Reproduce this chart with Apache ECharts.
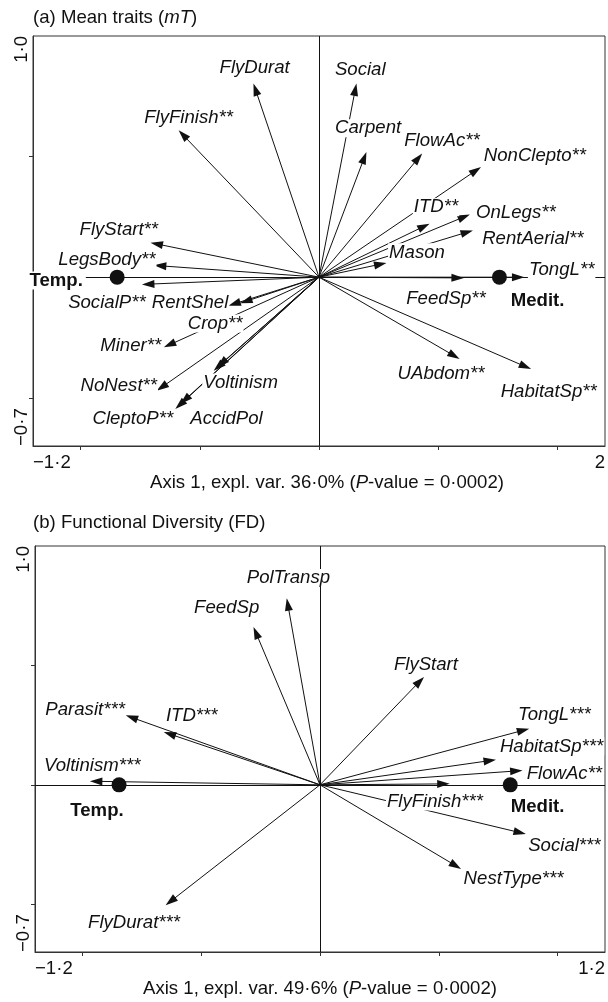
<!DOCTYPE html>
<html><head><meta charset="utf-8">
<script src="https://cdn.jsdelivr.net/npm/echarts@6/dist/echarts.min.js"></script>
<style>html,body{margin:0;padding:0;background:#fff}#c{width:608px;height:1002px}</style>
</head><body><div id="c"></div>
<script>
// ---------- Panel (a) Mean traits (mT) ----------
const aNames = ['FlyDurat','FlyFinish**','FlyStart**','LegsBody**','SocialP**','RentShel','Crop**','Miner**','NoNest**','Voltinism','','CleptoP**','AccidPol','Social','Carpent','FlowAc**','NonClepto**','ITD**','OnLegs**','RentAerial**','Mason','TongL**','FeedSp**','UAbdom**','HabitatSp**'];
const aTipX = [-0.275,-0.589,-0.707,-0.693,-0.743,-0.380,-0.331,-0.651,-0.681,-0.442,-0.428,-0.603,-0.582,0.157,0.199,0.433,0.680,0.464,0.633,0.646,0.283,0.862,0.608,0.590,0.890];
const aTipY = [0.803,0.609,0.143,0.049,-0.030,-0.118,-0.108,-0.291,-0.471,-0.388,-0.374,-0.547,-0.526,0.803,0.519,0.513,0.457,0.222,0.260,0.194,0.059,0.000,-0.003,-0.339,-0.381];
const aLabX = [-0.270,-0.547,-0.840,-0.890,-0.890,-0.541,-0.436,-0.790,-0.840,-0.329,null,-0.781,-0.388,0.173,0.206,0.516,0.906,0.491,0.826,0.897,0.411,1.018,0.533,0.512,0.964];
const aLabY = [0.867,0.659,0.198,0.074,-0.105,-0.105,-0.192,-0.284,-0.450,-0.437,null,-0.587,-0.587,0.859,0.618,0.564,0.505,0.290,0.265,0.157,0.103,0.032,-0.088,-0.400,-0.475];
const aSites = ['Temp.','Medit.'];
const aSiteX = [-0.847, 0.757];
const aSiteY = [0, 0];
const aSiteLabX = [-1.103, 0.917];
const aSiteLabY = [-0.014, -0.097];
const aXTickLabels = ['\u22121\u00b72', '2'];
const aYTickLabels = ['\u22120\u00b77', '1\u00b70'];
const aAxisName = 'Axis 1, expl. var. 36\u00b70% ({i|P}-value = 0\u00b70002)';
const aTitle = '(a) Mean traits ({i|mT})';

// ---------- Panel (b) Functional Diversity (FD) ----------
const bNames = ['PolTransp','FeedSp','Parasit***','ITD***','Voltinism***','FlyDurat***','FlyStart','TongL***','HabitatSp***','FlowAc**','FlyFinish***','Social***','NestType***'];
const bTipX = [-0.140,-0.280,-0.818,-0.658,-0.969,-0.650,0.438,0.881,0.741,0.853,0.546,0.867,0.594];
const bTipY = [0.781,0.661,0.291,0.221,0.015,-0.504,0.452,0.235,0.105,0.060,0.004,-0.206,-0.352];
const bLabX = [-0.133,-0.393,-0.989,-0.540,-0.959,-0.783,0.446,0.987,0.975,1.029,0.484,1.029,0.815];
const bLabY = [0.866,0.740,0.312,0.287,0.081,-0.578,0.501,0.291,0.161,0.047,-0.070,-0.255,-0.393];
const bSites = ['Temp.','Medit.'];
const bSiteX = [-0.846, 0.801];
const bSiteY = [0, 0];
const bSiteLabX = [-0.939, 0.916];
const bSiteLabY = [-0.108, -0.091];
const bXTickLabels = ['\u22121\u00b72', '1\u00b72'];
const bYTickLabels = ['\u22120\u00b77', '1\u00b70'];
const bAxisName = 'Axis 1, expl. var. 49\u00b76% ({i|P}-value = 0\u00b70002)';
const bTitle = '(b) Functional Diversity (FD)';

const X_RANGE = [-1.2, 1.2];
const Y_RANGE = [-0.7, 1.0];
const X_TICKS = [-1, -0.5, 0, 0.5, 1];
const Y_TICKS = [-0.5, 0, 0.5];

const FONT = 'Liberation Sans';
const FS = 18.6;
const INK = '#111';
const FRAME = '#333';
const CLEAR = 'rgba(0,0,0,0)';

function arrowItem(params, api) {
  const o = api.coord([0, 0]);
  const p = api.coord([api.value(0), api.value(1)]);
  const dx = p[0] - o[0], dy = p[1] - o[1];
  const len = Math.hypot(dx, dy) || 1;
  const ux = dx / len, uy = dy / len;
  const hl = 12.5, hw = 4;
  const bx = p[0] - ux * hl, by = p[1] - uy * hl;
  return {
    type: 'group',
    children: [
      { type: 'line', shape: { x1: o[0], y1: o[1], x2: bx + ux * 2, y2: by + uy * 2 }, style: { stroke: INK, lineWidth: 1 } },
      { type: 'polygon', shape: { points: [[p[0], p[1]], [bx - uy * hw, by + ux * hw], [bx + uy * hw, by - ux * hw]] }, style: { fill: INK } }
    ]
  };
}

function panel(idx, names, tipX, tipY, labX, labY, sites, siteX, siteY, siteLabX, siteLabY, xTL, yTL, axisName, axisNamePad, zeroZ) {
  const arrows = names.map((n, i) => [tipX[i], tipY[i]]);
  const labels = [];
  names.forEach((n, i) => { if (n && labX[i] != null) labels.push({ name: n, value: [labX[i], labY[i]] }); });
  const siteDots = sites.map((n, i) => ({ name: n, value: [siteX[i], siteY[i]] }));
  const siteLabs = sites.map((n, i) => ({ name: n, value: [siteLabX[i], siteLabY[i]] }));
  const xAxis = {
    type: 'value', gridIndex: idx, min: X_RANGE[0], max: X_RANGE[1],
    axisLine: { show: true, onZero: false, lineStyle: { color: FRAME, width: 1 } },
    axisTick: { show: true, length: 4, customValues: X_TICKS, lineStyle: { color: FRAME } },
    splitLine: { show: false },
    axisLabel: {
      show: true, customValues: X_RANGE, margin: 7, fontFamily: FONT, fontSize: FS, color: INK,
      alignMinLabel: 'left', alignMaxLabel: 'right',
      formatter: v => (v < 0 ? xTL[0] : xTL[1])
    },
    name: axisName, nameLocation: 'middle', nameGap: 27,
    nameTextStyle: { fontFamily: FONT, fontSize: FS, color: INK, padding: axisNamePad,
      rich: { i: { fontFamily: FONT, fontSize: FS, color: INK, fontStyle: 'italic' } } }
  };
  const yAxis = {
    type: 'value', gridIndex: idx, min: Y_RANGE[0], max: Y_RANGE[1],
    axisLine: { show: true, onZero: false, lineStyle: { color: FRAME, width: 1 } },
    axisTick: { show: true, length: 4, customValues: Y_TICKS, lineStyle: { color: FRAME } },
    splitLine: { show: false },
    axisLabel: {
      show: true, customValues: Y_RANGE, rotate: 90, margin: 2, fontFamily: FONT, fontSize: FS, color: INK,
      verticalAlign: 'bottom', alignMinLabel: 'left', alignMaxLabel: 'right',
      formatter: v => (v < 0 ? yTL[0] : yTL[1])
    }
  };
  const series = [
    { type: 'custom', xAxisIndex: idx, yAxisIndex: idx, renderItem: arrowItem, data: arrows, z: 2, silent: true, clip: false,
      encode: { x: 0, y: 1 } },
    { type: 'scatter', xAxisIndex: idx, yAxisIndex: idx, data: [], z: zeroZ, silent: true,
      markLine: { silent: true, symbol: 'none', animation: false, label: { show: false },
        lineStyle: { color: INK, width: 1, type: 'solid' },
        emphasis: { disabled: true },
        data: [{ xAxis: 0 }, { yAxis: 0 }] } },
    { type: 'scatter', xAxisIndex: idx, yAxisIndex: idx, data: siteDots, symbol: 'circle', symbolSize: 15,
      itemStyle: { color: INK, opacity: 1 }, z: 4, silent: true },
    { type: 'scatter', xAxisIndex: idx, yAxisIndex: idx, data: labels, symbolSize: 1,
      itemStyle: { color: CLEAR, opacity: 1 }, z: 5, silent: true,
      label: { show: true, position: 'inside', formatter: '{b}', fontFamily: FONT, fontSize: FS, fontStyle: 'italic',
        color: INK, backgroundColor: '#fff', padding: [0, 1], lineHeight: 18 } },
    { type: 'scatter', xAxisIndex: idx, yAxisIndex: idx, data: siteLabs, symbolSize: 1,
      itemStyle: { color: CLEAR, opacity: 1 }, z: 5, silent: true,
      label: { show: true, position: 'inside', formatter: '{b}', fontFamily: FONT, fontSize: FS, fontWeight: 'bold',
        color: INK, backgroundColor: '#fff', padding: [0, 3], lineHeight: 18 } }
  ];
  return { xAxis, yAxis, series };
}

const pa = panel(0, aNames, aTipX, aTipY, aLabX, aLabY, aSites, aSiteX, aSiteY, aSiteLabX, aSiteLabY, aXTickLabels, aYTickLabels, aAxisName, [0, 0, 0, 16], 2);
const pb = panel(1, bNames, bTipX, bTipY, bLabX, bLabY, bSites, bSiteX, bSiteY, bSiteLabX, bSiteLabY, bXTickLabels, bYTickLabels, bAxisName, 0, 10);

const chart = echarts.init(document.getElementById('c'), null, { renderer: 'canvas' });
chart.setOption({
  animation: false,
  backgroundColor: '#fff',
  title: [
    { text: aTitle, left: 33, top: 8, padding: 0,
      textStyle: { fontFamily: FONT, fontSize: FS, fontWeight: 'normal', color: INK,
        rich: { i: { fontFamily: FONT, fontSize: FS, fontStyle: 'italic', color: INK } } } },
    { text: bTitle, left: 33, top: 513, padding: 0,
      textStyle: { fontFamily: FONT, fontSize: FS, fontWeight: 'normal', color: INK } }
  ],
  grid: [
    { left: 33, top: 36, width: 574, height: 410, show: true, borderColor: FRAME, borderWidth: 1, backgroundColor: 'transparent' },
    { left: 35, top: 546, width: 572, height: 406, show: true, borderColor: FRAME, borderWidth: 1, backgroundColor: 'transparent' }
  ],
  xAxis: [pa.xAxis, pb.xAxis],
  yAxis: [pa.yAxis, pb.yAxis],
  series: pa.series.concat(pb.series)
});
</script>
</body></html>
